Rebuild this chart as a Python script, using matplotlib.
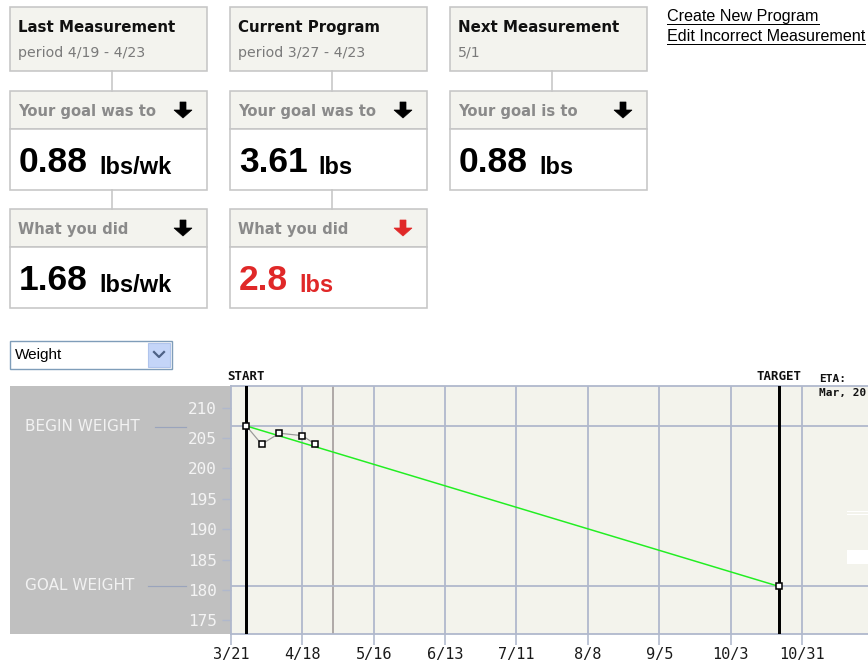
import matplotlib
matplotlib.use("Agg")
import matplotlib.pyplot as plt
import matplotlib.transforms as mtransforms
from matplotlib.patches import Rectangle, Polygon

# ---- data -------------------------------------------------------------
measure_days = [6, 12, 19, 28, 33]          # days after 3/21
measure_weights = [207.0, 204.0, 205.8, 205.4, 204.0]
start_day = 6
target_day = 215
next_day = 40
begin_weight = 207.0
goal_weight = 180.6

week_days = [0, 28, 56, 84, 112, 140, 168, 196, 224]
week_labels = ["3/21", "4/18", "5/16", "6/13", "7/11", "8/8", "9/5", "10/3", "10/31"]
weight_ticks = [175, 180, 185, 190, 195, 200, 205, 210]

columns = [
    ("Last Measurement", "period 4/19 - 4/23", "Your goal was to", "0.88", "lbs/wk",
     "What you did", "1.68", "lbs/wk", False),
    ("Current Program", "period 3/27 - 4/23", "Your goal was to", "3.61", "lbs",
     "What you did", "2.8", "lbs", True),
    ("Next Measurement", "5/1", "Your goal is to", "0.88", "lbs",
     None, None, None, False),
]
links = ["Create New Program", "Edit Incorrect Measurement"]

# ---- style ------------------------------------------------------------
W, H = 868, 665
PT = 0.72  # px -> pt at 100 dpi
border = "#c6c6c6"
head_bg = "#f3f3ee"
grid_c = "#b0b8cc"
red = "#e02828"
sans = "DejaVu Sans"
arial = "Liberation Sans"
mono = "DejaVu Sans Mono"

fig = plt.figure(figsize=(W / 100, H / 100), dpi=100)
fig.patch.set_facecolor("white")

bg = fig.add_axes([0, 0, 1, 1], zorder=0)
bg.set_xlim(0, W)
bg.set_ylim(H, 0)
bg.axis("off")


def box(x0, y0, x1, y1, fc):
    bg.add_patch(Rectangle((x0, y0), x1 - x0, y1 - y0, fc=fc, ec=border, lw=1.6 * PT))


def down_arrow(cx, top, color):
    pts = [(cx - 3, top), (cx + 3, top), (cx + 3, top + 8), (cx + 9, top + 8),
           (cx, top + 16), (cx - 9, top + 8), (cx - 3, top + 8)]
    bg.add_patch(Polygon(pts, closed=True, fc=color, ec=color, lw=0.5))


def value_text(x, y, val, unit, col):
    t = bg.text(x, y, val, fontsize=25.5, fontweight="bold", family=arial,
                color=col, va="baseline")
    bg.annotate(unit, xycoords=t, xy=(1, 0), xytext=(8, 0), textcoords="offset points",
                va="bottom", fontsize=17, fontweight="bold", family=arial, color=col)


for i, (title, sub, g_head, g_val, g_unit, d_head, d_val, d_unit, bad) in enumerate(columns):
    x0 = 10 + i * 220
    x1 = x0 + 197
    cx = x0 + 102
    box(x0, 7, x1, 71, head_bg)
    bg.text(x0 + 8, 32, title, fontsize=10.8, fontweight="bold", family=sans,
            color="#111111", va="baseline")
    bg.text(x0 + 8, 57, sub, fontsize=10.2, family=sans, color="#7a7a7a", va="baseline")
    bg.plot([cx, cx], [71, 91], color=border, lw=1.6 * PT)

    box(x0, 91, x1, 129, head_bg)
    bg.text(x0 + 8, 116, g_head, fontsize=10.6, fontweight="bold", family=sans,
            color="#8a8a8a", va="baseline")
    down_arrow(x0 + 173, 102, "black")
    box(x0, 129, x1, 190, "white")
    value_text(x0 + 9, 172, g_val, g_unit, "black")

    if d_head is None:
        continue
    col = red if bad else "black"
    bg.plot([cx, cx], [190, 209], color=border, lw=1.6 * PT)
    box(x0, 209, x1, 247, head_bg)
    bg.text(x0 + 8, 234, d_head, fontsize=10.6, fontweight="bold", family=sans,
            color="#8a8a8a", va="baseline")
    down_arrow(x0 + 173, 220, col)
    box(x0, 247, x1, 308, "white")
    value_text(x0 + 9, 290, d_val, d_unit, col)

# links (underlined)
link_texts = []
for k, s in enumerate(links):
    link_texts.append(bg.text(667, 21 + k * 20, s, fontsize=11.6, family=arial,
                              color="black", va="baseline"))

# dropdown
bg.add_patch(Rectangle((10, 341), 162, 28, fc="white", ec="#7f9db9", lw=1.4 * PT))
bg.text(15, 355, "Weight", fontsize=11, family=arial, color="black", va="center")
bg.add_patch(Rectangle((148, 343), 22, 24, fc="#c4d5f8", ec="#b0c4ec", lw=0.8))
bg.plot([154, 159, 164], [352, 357, 352], color="#4d6185", lw=2.2 * PT)

# gray side panel
bg.add_patch(Rectangle((10, 386), 221, 248, fc="#c0c0c0", ec="none"))

# ---- chart ------------------------------------------------------------
x_left = 230.7
px_per_day = 2.55
ax = fig.add_axes([231 / W, 1 - 634 / H, (W - 231) / W, (634 - 386) / H], zorder=2)
ax.set_facecolor("#f3f3ec")
ax.set_xlim(0, (W - x_left) / px_per_day)
ax.set_ylim(172.77, 213.57)

ax.set_xticks(week_days)
ax.set_xticklabels(week_labels)
ax.set_yticks(weight_ticks)
ax.tick_params(axis="x", direction="out", length=8, width=1.6 * PT, color=grid_c,
               labelsize=11, labelcolor="#1a1a1a", pad=1.5)
ax.tick_params(axis="y", direction="out", length=6.5, width=1.4 * PT, color=grid_c,
               labelsize=11.5, labelcolor="#f4f4f4", pad=3.5)
for lbl in ax.get_xticklabels() + ax.get_yticklabels():
    lbl.set_family(mono)
for side in ["top", "bottom", "left"]:
    ax.spines[side].set_color(grid_c)
    ax.spines[side].set_linewidth(1.8 * PT)
ax.spines["right"].set_visible(False)

for d in week_days[1:]:
    ax.axvline(d, color=grid_c, lw=1.8 * PT, zorder=1)
ax.axvline(next_day, color="#a09898", lw=1.6 * PT, zorder=1)
ax.axhline(begin_weight, color=grid_c, lw=1.8 * PT, zorder=1)
ax.axhline(goal_weight, color=grid_c, lw=1.8 * PT, zorder=1)

ax.axvline(start_day, color="black", lw=3 * PT, zorder=3)
ax.axvline(target_day, color="black", lw=3 * PT, zorder=3)

ax.plot([start_day, target_day], [begin_weight, goal_weight], color="#22ee22",
        lw=1.5 * PT, zorder=4)
ax.plot(measure_days, measure_weights, color="#999999", lw=1.2 * PT, zorder=5,
        marker="s", markersize=4.5, markerfacecolor="white", markeredgecolor="black",
        markeredgewidth=1.1)
ax.plot([target_day], [goal_weight], marker="s", markersize=4.5, markerfacecolor="white",
        markeredgecolor="black", markeredgewidth=1.1, zorder=5)

# labels above the chart
tr = mtransforms.blended_transform_factory(ax.transData, ax.transAxes)
ax.text(start_day, 1.012, "START", transform=tr, ha="center", va="bottom",
        fontsize=9, fontweight="bold", family=mono, color="#111111", clip_on=False)
ax.text(target_day, 1.012, "TARGET", transform=tr, ha="center", va="bottom",
        fontsize=9, fontweight="bold", family=mono, color="#111111", clip_on=False)

top = fig.add_axes([0, 0, 1, 1], zorder=6)
top.set_xlim(0, W)
top.set_ylim(H, 0)
top.axis("off")
top.text(819, 382, "ETA:", fontsize=8, fontweight="bold", family=mono, color="#111111",
         va="baseline")
top.text(819, 396, "Mar, 20", fontsize=8, fontweight="bold", family=mono,
         color="#111111", va="baseline")
top.add_patch(Rectangle((847, 511), 21, 1.3, fc="white", ec="none"))
top.add_patch(Rectangle((847, 514), 21, 1.3, fc="white", ec="none"))
top.add_patch(Rectangle((847, 550), 21, 14, fc="white", ec="none"))

# side-panel labels with connector lines
top.text(25, 426.5, "BEGIN WEIGHT", fontsize=11, family=sans, color="#f2f2f2", va="center")
top.plot([155, 186], [426.7, 426.7], color="#9aa4bc", lw=1.2 * PT)
top.text(25, 586, "GOAL WEIGHT", fontsize=11, family=sans, color="#f2f2f2", va="center")
top.plot([148, 186], [586.3, 586.3], color="#9aa4bc", lw=1.2 * PT)

# underline the links
fig.canvas.draw()
inv = bg.transData.inverted()
for k, t in enumerate(link_texts):
    bb = t.get_window_extent()
    xa, _ = inv.transform((bb.x0, bb.y0))
    xb, _ = inv.transform((bb.x1, bb.y0))
    bg.plot([xa, xb], [23.5 + k * 20, 23.5 + k * 20], color="black", lw=1.0 * PT)

fig.savefig("out.png", dpi=100)
